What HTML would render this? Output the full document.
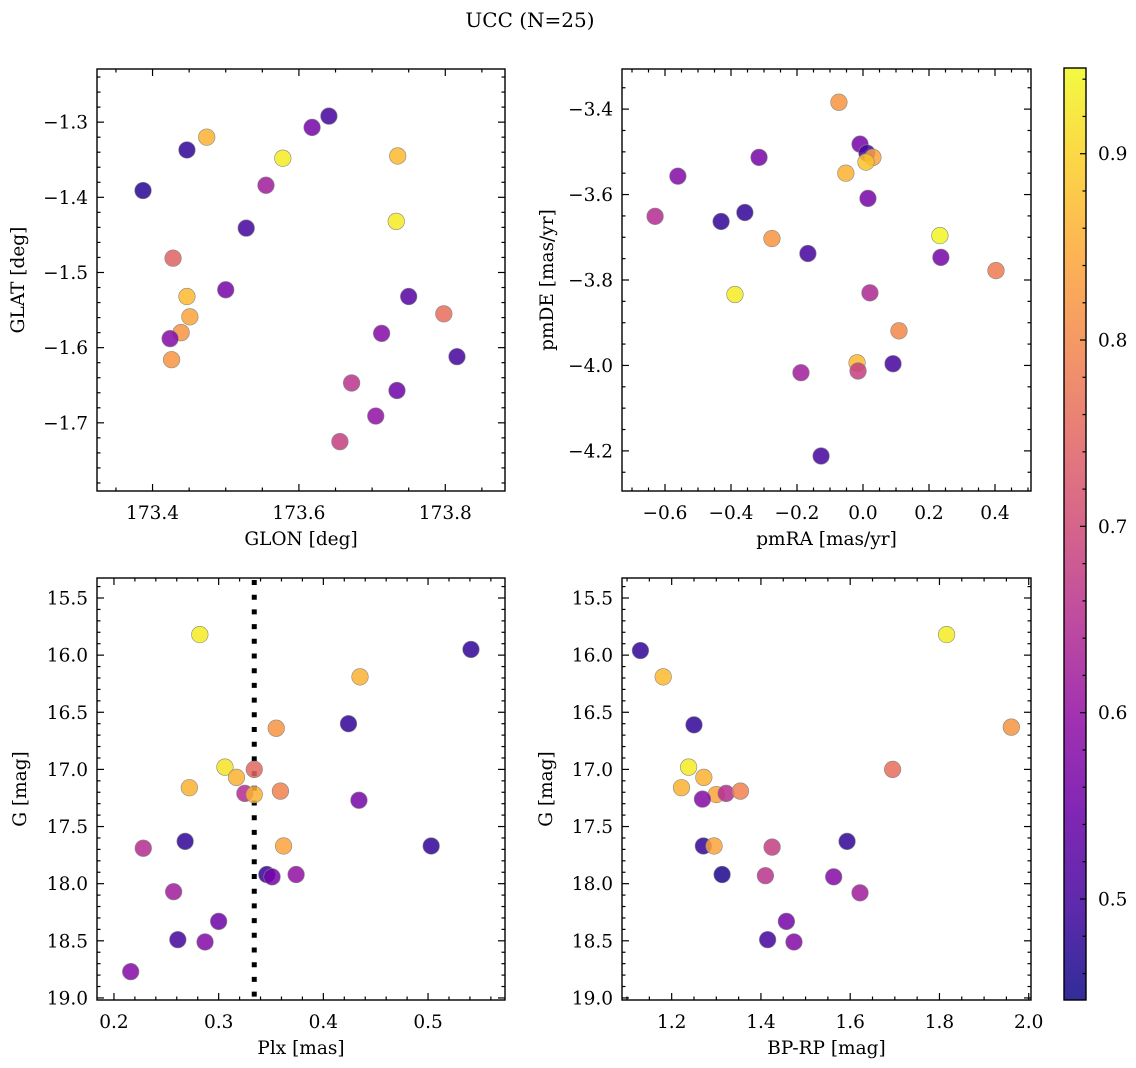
<!DOCTYPE html>
<html><head><meta charset="utf-8"><style>
html,body{margin:0;padding:0;background:#fff;}
svg{display:block;font-family:"DejaVu Serif","Liberation Serif",serif;}
</style></head><body>
<svg id="chart" width="1136" height="1068" viewBox="0 0 1136 1068" xmlns="http://www.w3.org/2000/svg">
<defs><linearGradient id="cbgrad" x1="0" y1="1" x2="0" y2="0"></linearGradient></defs>
<text x="530" y="27" font-size="20" text-anchor="middle">UCC (N=25)</text>
</svg>
<script>
// ---- data ----
const p1Lon=[173.387,173.447,173.474,173.578,173.555,173.528,173.618,173.641,173.735,173.733,173.428,173.447,173.451,173.500,173.439,173.424,173.426,173.750,173.713,173.798,173.816,173.672,173.734,173.705,173.656];
const p1Lat=[-1.391,-1.337,-1.320,-1.348,-1.384,-1.441,-1.307,-1.292,-1.345,-1.432,-1.481,-1.532,-1.559,-1.523,-1.580,-1.588,-1.616,-1.532,-1.581,-1.555,-1.612,-1.647,-1.657,-1.691,-1.725];
const p1Prob=[0.47,0.48,0.86,0.93,0.62,0.50,0.56,0.50,0.87,0.93,0.74,0.87,0.84,0.56,0.82,0.58,0.82,0.52,0.58,0.76,0.50,0.66,0.55,0.60,0.68];
const p2PmRA=[-0.073,-0.009,0.012,0.030,0.009,-0.315,-0.052,-0.561,-0.630,-0.358,-0.430,0.015,-0.276,0.233,-0.167,0.236,0.403,-0.388,0.021,0.109,0.091,-0.018,-0.015,-0.188,-0.127];
const p2PmDE=[-3.384,-3.482,-3.503,-3.513,-3.524,-3.513,-3.550,-3.557,-3.651,-3.642,-3.663,-3.609,-3.703,-3.696,-3.738,-3.747,-3.778,-3.834,-3.830,-3.919,-3.996,-3.994,-4.013,-4.017,-4.212];
const p2Prob=[0.82,0.56,0.50,0.84,0.88,0.56,0.86,0.58,0.65,0.48,0.48,0.56,0.82,0.94,0.50,0.56,0.78,0.93,0.64,0.80,0.50,0.87,0.68,0.62,0.50];
const p3Plx=[0.282,0.541,0.435,0.355,0.424,0.306,0.317,0.334,0.272,0.325,0.334,0.359,0.434,0.228,0.268,0.362,0.503,0.346,0.351,0.374,0.257,0.300,0.261,0.287,0.216];
const p3G=[15.82,15.95,16.19,16.64,16.60,16.98,17.07,17.00,17.16,17.21,17.22,17.19,17.27,17.69,17.63,17.67,17.67,17.92,17.94,17.92,18.07,18.33,18.49,18.51,18.77];
const p3Prob=[0.93,0.48,0.86,0.82,0.48,0.92,0.86,0.75,0.86,0.65,0.86,0.79,0.56,0.65,0.48,0.84,0.48,0.48,0.56,0.60,0.62,0.55,0.50,0.58,0.58];
const p4BpRp=[1.130,1.816,1.181,1.250,1.961,1.238,1.272,1.695,1.222,1.300,1.322,1.354,1.269,1.271,1.295,1.425,1.593,1.313,1.410,1.563,1.622,1.457,1.415,1.474];
const p4G=[15.96,15.82,16.19,16.61,16.63,16.98,17.07,17.00,17.16,17.22,17.21,17.19,17.26,17.67,17.67,17.68,17.63,17.92,17.93,17.94,18.08,18.33,18.49,18.51];
const p4Prob=[0.48,0.93,0.87,0.48,0.82,0.93,0.86,0.76,0.86,0.84,0.65,0.79,0.58,0.48,0.84,0.68,0.48,0.46,0.66,0.58,0.62,0.56,0.50,0.58];
const plxLine=[0.334];
const p1XTicks=[173.4,173.6,173.8], p1YTicks=[-1.3,-1.4,-1.5,-1.6,-1.7];
const p2XTicks=[-0.6,-0.4,-0.2,0.0,0.2,0.4], p2YTicks=[-3.4,-3.6,-3.8,-4.0,-4.2];
const p3XTicks=[0.2,0.3,0.4,0.5], gTicks=[15.5,16.0,16.5,17.0,17.5,18.0,18.5,19.0];
const p4XTicks=[1.2,1.4,1.6,1.8,2.0];
const cbTicks=[0.5,0.6,0.7,0.8,0.9];
const vmin=0.4458, vmax=0.946;

const NS="http://www.w3.org/2000/svg";
const svg=document.getElementById('chart');
const plasmaStops=["#0d0887","#41049d","#6a00a8","#8f0da4","#b12a90","#cc4778","#e16462","#f2844b","#fca636","#fcce25","#f0f921"];
function hex(h){return [1,3,5].map(i=>parseInt(h.substr(i,2),16));}
function cmap(t){t=Math.max(0,Math.min(1,t));const f=t*10;const i=Math.min(9,Math.floor(f));const a=hex(plasmaStops[i]),b=hex(plasmaStops[i+1]);const u=f-i;
 return 'rgb('+a.map((v,k)=>Math.round(v+(b[k]-v)*u)).join(',')+')';}
function mk(tag,attrs,parent){const e=document.createElementNS(NS,tag);for(const k in attrs)e.setAttribute(k,attrs[k]);(parent||svg).appendChild(e);return e;}
function fmt(v,d){const s=Math.abs(v).toFixed(d);return (v<-1e-9?'−':'')+s;}
const FS=18.5;

function panel(c){
  const g=mk('g',{});
  
  
  const sx=v=>c.L+(v-c.x0)/(c.x1-c.x0)*(c.R-c.L);
  const sy=v=>c.T+(v-c.y0)/(c.y1-c.y0)*(c.B-c.T);
  const xmin=Math.min(c.x0,c.x1), xmax=Math.max(c.x0,c.x1), ymin=Math.min(c.y0,c.y1), ymax=Math.max(c.y0,c.y1);
  for(let v=Math.ceil(xmin/c.xm-1e-6)*c.xm; v<=xmax+1e-9; v+=c.xm){const x=sx(v);
    const isMaj=c.xt.some(t=>Math.abs(t-v)<c.xm/3);const len=isMaj?7:3.5;
    const t1=mk('line',{x1:x,x2:x,y1:c.B,y2:c.B-len,stroke:'#000','stroke-width':1.2},g);
    
    mk('line',{x1:x,x2:x,y1:c.T,y2:c.T+len,stroke:'#000','stroke-width':1.2},g);}
  for(let v=Math.ceil(ymin/c.ym-1e-6)*c.ym; v<=ymax+1e-9; v+=c.ym){const y=sy(v);
    const isMaj=c.yt.some(t=>Math.abs(t-v)<c.ym/3);const len=isMaj?7:3.5;
    const t1=mk('line',{y1:y,y2:y,x1:c.L,x2:c.L+len,stroke:'#000','stroke-width':1.2},g);
    
    mk('line',{y1:y,y2:y,x1:c.R,x2:c.R-len,stroke:'#000','stroke-width':1.2},g);}
  c.xt.forEach(v=>{const t=mk('text',{x:sx(v),y:c.B+28,'font-size':FS,'text-anchor':'middle'},g);t.textContent=fmt(v,c.xd);
    });
  c.yt.forEach(v=>{const t=mk('text',{x:c.L-9,y:sy(v)+6.5,'font-size':FS,'text-anchor':'end'},g);t.textContent=fmt(v,c.yd);
    });
  const xl=mk('text',{x:(c.L+c.R)/2,y:c.B+54,'font-size':FS,'text-anchor':'middle'},g);xl.textContent=c.xlab;
  
  const ycx=c.L-c.ylOff, ycy=(c.T+c.B)/2;
  const yl=mk('text',{x:ycx,y:ycy,'font-size':FS,'text-anchor':'middle',transform:`rotate(-90 ${ycx} ${ycy})`},g);yl.textContent=c.ylab;
  
  if(c.vline!==undefined){const l=mk('line',{x1:sx(c.vline),x2:sx(c.vline),y1:c.T+2,y2:c.B,stroke:'#000','stroke-width':5,'stroke-dasharray':'5 9.7'},g);
    }
  c.xs.forEach((xv,i)=>{const p=mk('circle',{cx:sx(xv),cy:sy(c.ys[i]),r:8.3,fill:cmap((c.pr[i]-vmin)/(vmax-vmin)),'fill-opacity':0.85,stroke:'#888','stroke-width':0.6},g);
    });
  const f=mk('rect',{x:c.L,y:c.T,width:c.R-c.L,height:c.B-c.T,fill:'none',stroke:'#000','stroke-width':1.4},g);
  
}
panel({name:'glon-glat-panel',L:97,R:505,T:69,B:491,x0:173.3241,x1:173.8816,y0:-1.2293,y1:-1.7907,xt:p1XTicks,yt:p1YTicks,xm:0.05,ym:0.02,xd:1,yd:1,xlab:'GLON [deg]',ylab:'GLAT [deg]',ylOff:73,xs:p1Lon,ys:p1Lat,pr:p1Prob});
panel({name:'pm-panel',L:622,R:1031,T:69,B:491,x0:-0.7303,x1:0.5091,y0:-3.3061,y1:-4.2939,xt:p2XTicks,yt:p2YTicks,xm:0.05,ym:0.05,xd:1,yd:1,xlab:'pmRA [mas/yr]',ylab:'pmDE [mas/yr]',ylOff:69,xs:p2PmRA,ys:p2PmDE,pr:p2Prob});
panel({name:'plx-g-panel',L:97,R:505,T:578,B:1000,x0:0.1838,x1:0.5735,y0:15.325,y1:19.018,xt:p3XTicks,yt:gTicks,xm:0.02,ym:0.1,xd:1,yd:1,xlab:'Plx [mas]',ylab:'G [mag]',ylOff:71,xs:p3Plx,ys:p3G,pr:p3Prob,vline:plxLine[0]});
panel({name:'cmd-panel',L:622,R:1031,T:578,B:1000,x0:1.0887,x1:2.0051,y0:15.325,y1:19.018,xt:p4XTicks,yt:gTicks,xm:0.05,ym:0.1,xd:1,yd:1,xlab:'BP-RP [mag]',ylab:'G [mag]',ylOff:70,xs:p4BpRp,ys:p4G,pr:p4Prob});

// colorbar
const grad=document.getElementById('cbgrad');
for(let i=0;i<=10;i++){mk('stop',{offset:(i*10)+'%','stop-color':plasmaStops[i],'stop-opacity':0.85},grad);}
const cbT=68,cbB=1000,cbL=1064,cbR=1086;
const cby=v=>cbB-(v-vmin)/(vmax-vmin)*(cbB-cbT);
const cbg=mk('g',{});


mk('rect',{x:cbL,y:cbT,width:cbR-cbL,height:cbB-cbT,fill:'url(#cbgrad)',stroke:'#000','stroke-width':1.4},cbg);
for(let v=0.46;v<=0.94+1e-9;v+=0.02){const y=cby(v);const maj=cbTicks.some(t=>Math.abs(t-v)<0.005);
  mk('line',{x1:cbR,x2:cbR-(maj?6:3.5),y1:y,y2:y,stroke:'#000','stroke-width':1.2},cbg);}
cbTicks.forEach(v=>{const t=mk('text',{x:cbR+12,y:cby(v)+6.5,'font-size':FS},cbg);t.textContent=v.toFixed(1);
  });
</script>
</body></html>
